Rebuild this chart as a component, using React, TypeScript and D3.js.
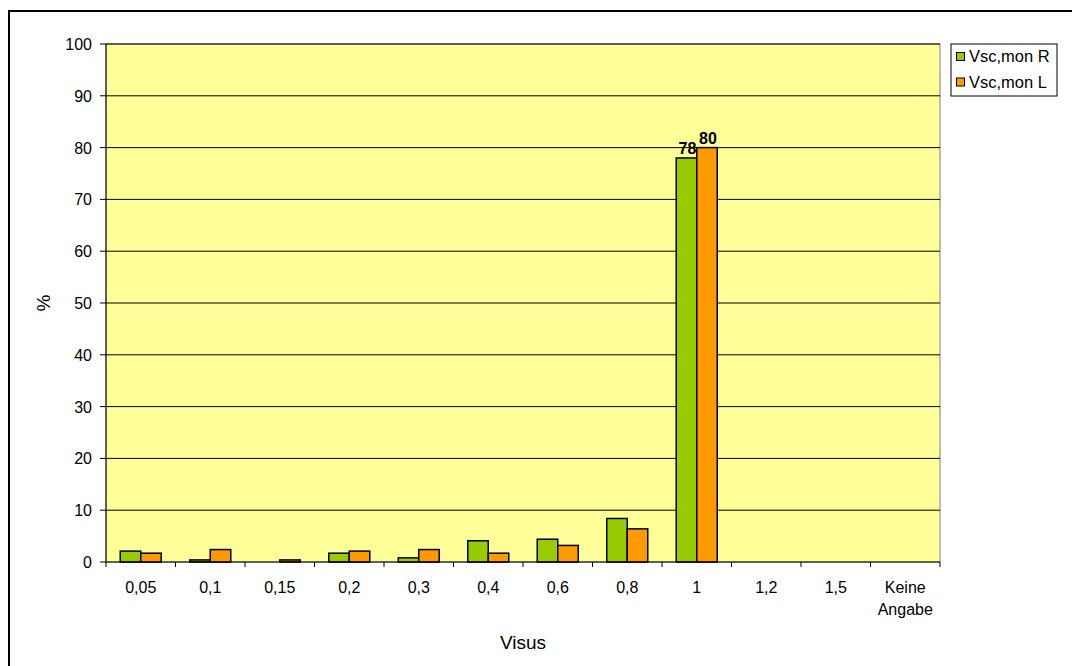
import React from "react";
import * as d3 from "d3";

const categories = ["0,05", "0,1", "0,15", "0,2", "0,3", "0,4", "0,6", "0,8", "1", "1,2", "1,5", "Keine Angabe"];
const seriesNames = ["Vsc,mon R", "Vsc,mon L"];
const valuesR = [2.1, 0.4, 0, 1.7, 0.8, 4.1, 4.4, 8.4, 78, 0, 0, 0];
const valuesL = [1.7, 2.4, 0.4, 2.1, 2.4, 1.7, 3.2, 6.4, 80, 0, 0, 0];
const yTicks = [0, 10, 20, 30, 40, 50, 60, 70, 80, 90, 100];
const labelledCategories = ["1"];
const colors = ["#99CC00", "#FF9900"];

const W = 1072;
const H = 666;
const plot = { left: 106, right: 940, top: 44, bottom: 562 };
const font = "Arial, 'Liberation Sans', sans-serif";

export default function App() {
  const x = d3
    .scaleBand<string>()
    .domain(categories)
    .range([plot.left, plot.right])
    .paddingInner(0.41)
    .paddingOuter(0.205);
  const xs = d3.scaleBand<string>().domain(seriesNames).range([0, x.bandwidth()]);
  const y = d3.scaleLinear().domain([0, 100]).range([plot.bottom, plot.top]);
  const step = (plot.right - plot.left) / categories.length;
  const series = [valuesR, valuesL];

  return (
    <svg
      width={W}
      height={H}
      style={{ position: "absolute", left: 0, top: 0, background: "#fff" }}
      fontFamily={font}
    >
      {/* chart frame */}
      <rect x={9} y={11} width={W + 20} height={H + 20} fill="none" stroke="#000" strokeWidth={2} />

      {/* plot area */}
      <rect
        x={plot.left}
        y={plot.top}
        width={plot.right - plot.left}
        height={plot.bottom - plot.top}
        fill="#FFFF99"
        stroke="#808080"
        strokeWidth={1}
      />
      {yTicks.slice(1).map((t) => (
        <line key={"g" + t} x1={plot.left} x2={plot.right} y1={y(t)} y2={y(t)} stroke="#000" strokeWidth={1} />
      ))}

      {/* bars */}
      {series.map((vals, si) =>
        vals.map((v, i) =>
          v > 0 ? (
            <rect
              key={`b${si}-${i}`}
              x={(x(categories[i]) ?? 0) + (xs(seriesNames[si]) ?? 0)}
              y={y(v)}
              width={xs.bandwidth()}
              height={y(0) - y(v)}
              fill={colors[si]}
              stroke="#000"
              strokeWidth={1.5}
            />
          ) : null
        )
      )}

      {/* value labels */}
      {series.map((vals, si) =>
        vals.map((v, i) =>
          labelledCategories.includes(categories[i]) ? (
            <text
              key={`l${si}-${i}`}
              x={(x(categories[i]) ?? 0) + (xs(seriesNames[si]) ?? 0) + xs.bandwidth() / 2 + 1}
              y={y(v) - 4}
              textAnchor="middle"
              fontSize={16}
              fontWeight="bold"
            >
              {d3.format(".0f")(v)}
            </text>
          ) : null
        )
      )}

      {/* y axis */}
      <line x1={plot.left} x2={plot.left} y1={plot.top} y2={plot.bottom} stroke="#000" strokeWidth={1} />
      {yTicks.map((t) => (
        <g key={"yt" + t}>
          <line x1={plot.left - 6} x2={plot.left} y1={y(t)} y2={y(t)} stroke="#000" />
          <text x={plot.left - 14} y={y(t) + 6} textAnchor="end" fontSize={16}>
            {t}
          </text>
        </g>
      ))}

      {/* x axis */}
      <line x1={plot.left} x2={plot.right} y1={plot.bottom} y2={plot.bottom} stroke="#000" strokeWidth={1} />
      {d3.range(categories.length + 1).map((i) => (
        <line
          key={"xt" + i}
          x1={plot.left + i * step}
          x2={plot.left + i * step}
          y1={plot.bottom}
          y2={plot.bottom + 5}
          stroke="#000"
        />
      ))}
      {categories.map((c) => {
        const cx = (x(c) ?? 0) + x.bandwidth() / 2;
        const parts = c.split(" ");
        return (
          <text key={"xl" + c} x={cx} y={593} textAnchor="middle" fontSize={16}>
            {parts.map((p, k) => (
              <tspan key={k} x={cx} dy={k === 0 ? 0 : 22}>
                {p}
              </tspan>
            ))}
          </text>
        );
      })}

      {/* axis titles */}
      <text x={(plot.left + plot.right) / 2} y={649} textAnchor="middle" fontSize={19}>
        Visus
      </text>
      <text
        transform={`translate(50, ${(plot.top + plot.bottom) / 2}) rotate(-90)`}
        textAnchor="middle"
        fontSize={19}
      >
        %
      </text>

      {/* legend */}
      <rect x={951} y={44} width={106} height={52} fill="#fff" stroke="#000" strokeWidth={1} />
      {seriesNames.map((s, i) => (
        <g key={"lg" + s}>
          <rect x={956.5} y={52.5 + i * 25.5} width={8} height={8} fill={colors[i]} stroke="#000" strokeWidth={1} />
          <text x={969} y={62 + i * 25.5} fontSize={16.5}>
            {s}
          </text>
        </g>
      ))}
    </svg>
  );
}
